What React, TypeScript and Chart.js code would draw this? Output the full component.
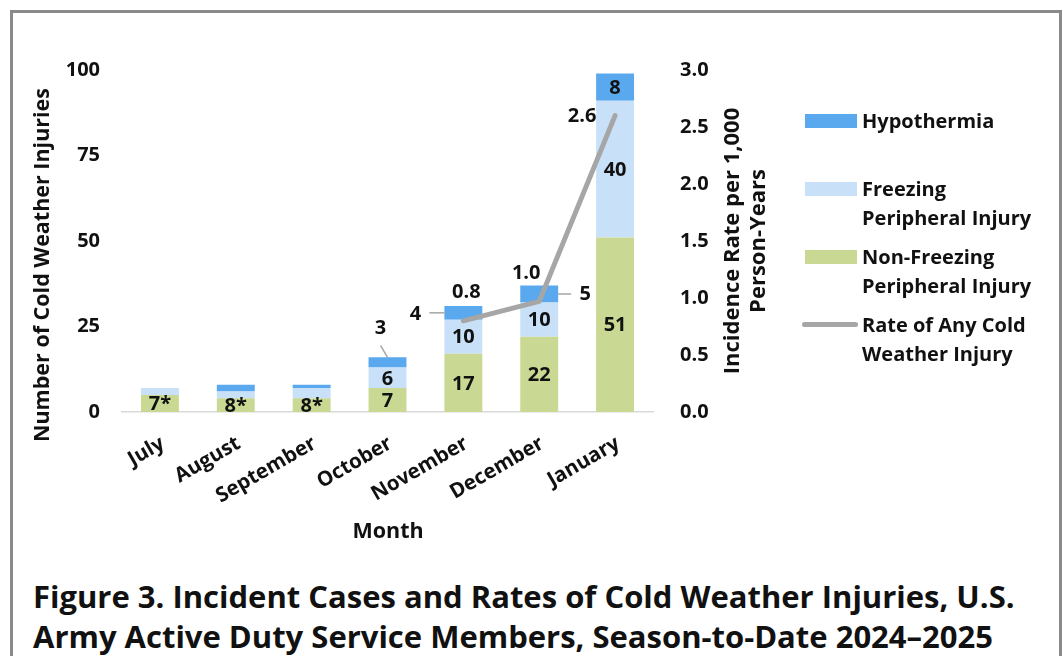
import React, { useEffect, useRef } from "react";
import { Chart, registerables } from "chart.js";
Chart.register(...registerables);

const months = ["July", "August", "September", "October", "November", "December", "January"];
const nonFreezing = [5, 4, 4, 7, 17, 22, 51];
const freezing = [2, 2, 3, 6, 10, 10, 40];
const hypothermia = [0, 2, 1, 3, 4, 5, 8];
const rate: (number | null)[] = [null, null, null, null, 0.8, 0.97, 2.6];
const suppressed = [true, true, true, false, false, false, false];
const leftTicks = [0, 25, 50, 75, 100];
const rightTicks = [0, 0.5, 1.0, 1.5, 2.0, 2.5, 3.0];

const FONT = "'Open Sans', Lato, sans-serif";
const TXT = "#111111";
const C_HYPO = "#5AA9EF";
const C_FREEZE = "#C9E1F8";
const C_NONF = "#C9D994";
const C_RATE = "#A6A6A6";
const C_LEADER = "#A6A6A6";

// callout placements for small hypothermia segments (index -> placement)
const hypoCallouts: Record<number, { anchor: "top" | "left" | "right"; dx: number; dy: number }> = {
  3: { anchor: "top", dx: -7, dy: -30 },
  4: { anchor: "left", dx: -29, dy: 0 },
  5: { anchor: "right", dx: 27, dy: -1 },
};
const rateLabelOffsets: Record<number, { dx: number; dy: number }> = {
  4: { dx: 3, dy: -30 },
  5: { dx: -13, dy: -29 },
  6: { dx: -33, dy: 0 },
};

const labelPlugin = {
  id: "customLabels",
  afterDatasetsDraw(chart: any) {
    const ctx = chart.ctx as CanvasRenderingContext2D;
    ctx.save();
    ctx.font = `bold 20px ${FONT}`;
    ctx.fillStyle = TXT;
    ctx.textAlign = "center";
    ctx.textBaseline = "middle";
    const series = [nonFreezing, freezing, hypothermia];
    for (let d = 0; d < 3; d++) {
      const meta = chart.getDatasetMeta(d);
      meta.data.forEach((bar: any, j: number) => {
        const p = bar.getProps(["x", "y", "base", "width"], true);
        const cy = (p.y + p.base) / 2;
        const v = series[d][j];
        if (suppressed[j]) {
          if (d === 0) {
            const total = nonFreezing[j] + freezing[j] + hypothermia[j];
            ctx.fillText(`${total}*`, p.x, cy + 1);
          }
          return;
        }
        if (!v) return;
        if (d === 2 && hypoCallouts[j]) {
          const c = hypoCallouts[j];
          let ax = p.x, ay = cy;
          if (c.anchor === "top") { ay = p.y; }
          if (c.anchor === "left") { ax = p.x - p.width / 2; }
          if (c.anchor === "right") { ax = p.x + p.width / 2; }
          const lx = ax + c.dx, ly = ay + c.dy;
          ctx.strokeStyle = C_LEADER;
          ctx.lineWidth = 1.5;
          ctx.beginPath();
          if (c.anchor === "top") { ctx.moveTo(lx, ly + 18); ctx.lineTo(ax, ay); }
          else if (c.anchor === "left") { ctx.moveTo(lx + 14, ay); ctx.lineTo(ax, ay); }
          else { ctx.moveTo(ax, ay); ctx.lineTo(lx - 14, ay); }
          ctx.stroke();
          ctx.fillText(String(v), lx, ly + 1);
          return;
        }
        ctx.fillText(String(v), p.x, cy + 1);
      });
    }
    const lmeta = chart.getDatasetMeta(3);
    lmeta.data.forEach((pt: any, j: number) => {
      const v = rate[j];
      if (v == null) return;
      const o = rateLabelOffsets[j] || { dx: 0, dy: -25 };
      ctx.fillText(v.toFixed(1), pt.x + o.dx, pt.y + o.dy + 1);
    });
    ctx.restore();
  },
  afterDraw(chart: any) {
    const ctx = chart.ctx as CanvasRenderingContext2D;
    ctx.save();
    ctx.fillStyle = TXT;
    // month tick labels, rotated, anchored at the category positions of the x scale
    const xs = chart.scales.x;
    ctx.font = `bold 20.5px ${FONT}`;
    ctx.textAlign = "right";
    ctx.textBaseline = "middle";
    months.forEach((m, i) => {
      const x = xs.getPixelForValue(i) + 3;
      ctx.save();
      ctx.translate(x, xs.top + 30);
      ctx.rotate(-Math.PI / 6);
      ctx.fillText(m, 0, 0);
      ctx.restore();
    });
    ctx.textAlign = "center";
    ctx.font = `bold 21.5px ${FONT}`;
    // x title
    ctx.fillText("Month", 388, 532);
    // left title
    ctx.save();
    ctx.translate(43, 265);
    ctx.rotate(-Math.PI / 2);
    ctx.font = `bold 21.5px ${FONT}`;
    ctx.fillText("Number of Cold Weather Injuries", 0, 0);
    ctx.restore();
    // right title (two lines, bottom-to-top)
    ctx.save();
    ctx.translate(745, 241);
    ctx.rotate(-Math.PI / 2);
    ctx.font = `bold 22px ${FONT}`;
    ctx.fillText("Incidence Rate per 1,000", 0, -12);
    ctx.fillText("Person-Years", 0, 14);
    ctx.restore();
    ctx.restore();
  },
};

function Legend() {
  const item = (top: number, swatch: React.ReactNode, lines: string[]) => (
    <div style={{ position: "absolute", left: 802, top, display: "flex" }}>
      <div style={{ width: 56, position: "relative" }}>{swatch}</div>
      <div style={{ marginLeft: 4, font: `bold 20px ${FONT}`, lineHeight: "29px", color: TXT, whiteSpace: "nowrap" }}>
        {lines.map((l) => (<div key={l}>{l}</div>))}
      </div>
    </div>
  );
  const box = (c: string) => (
    <div style={{ position: "absolute", left: 3, top: 8, width: 52, height: 14, background: c }} />
  );
  return (
    <>
      {item(106, box(C_HYPO), ["Hypothermia"])}
      {item(174, box(C_FREEZE), ["Freezing", "Peripheral Injury"])}
      {item(242, box(C_NONF), ["Non-Freezing", "Peripheral Injury"])}
      {item(310, <div style={{ position: "absolute", left: 0, top: 12, width: 56, height: 5, borderRadius: 3, background: C_RATE }} />, ["Rate of Any Cold", "Weather Injury"])}
    </>
  );
}

export default function App() {
  const ref = useRef<HTMLCanvasElement | null>(null);
  useEffect(() => {
    if (!ref.current) return;
    const chart = new Chart(ref.current, {
      type: "bar",
      data: {
        labels: months,
        datasets: [
          { type: "bar", label: "Non-Freezing Peripheral Injury", data: nonFreezing, backgroundColor: C_NONF, yAxisID: "y", stack: "s", order: 1, categoryPercentage: 1, barPercentage: 0.5 } as any,
          { type: "bar", label: "Freezing Peripheral Injury", data: freezing, backgroundColor: C_FREEZE, yAxisID: "y", stack: "s", order: 1, categoryPercentage: 1, barPercentage: 0.5 } as any,
          { type: "bar", label: "Hypothermia", data: hypothermia, backgroundColor: C_HYPO, yAxisID: "y", stack: "s", order: 1, categoryPercentage: 1, barPercentage: 0.5 } as any,
          { type: "line", label: "Rate of Any Cold Weather Injury", data: rate, borderColor: C_RATE, borderWidth: 5, borderCapStyle: "round", borderJoinStyle: "round", pointRadius: 0, tension: 0, yAxisID: "y1", order: 0, spanGaps: false } as any,
        ],
      },
      options: {
        responsive: false,
        animation: false,
        events: [],
        layout: { padding: { top: 70, left: 0, right: 0, bottom: 0 } },
        plugins: { legend: { display: false }, tooltip: { enabled: false }, title: { display: false } },
        scales: {
          x: {
            stacked: true,
            grid: { display: false, drawTicks: false },
            border: { display: true, color: "#D9D9D9", width: 1.5 },
            ticks: { display: false, autoSkip: false },
            afterFit: (s: any) => { s.height = 148; },
          },
          y: {
            stacked: true,
            position: "left",
            min: 0,
            max: 100,
            afterBuildTicks: (s: any) => { s.ticks = leftTicks.map((v) => ({ value: v })); },
            grid: { display: false, drawTicks: false },
            border: { display: false },
            ticks: { color: TXT, font: { family: FONT, size: 20, weight: "bold" }, padding: 22 },
            afterFit: (s: any) => { s.width = 122; },
          },
          y1: {
            position: "right",
            min: 0,
            max: 3,
            afterBuildTicks: (s: any) => { s.ticks = rightTicks.map((v) => ({ value: v })); },
            grid: { display: false, drawTicks: false },
            border: { display: false },
            ticks: { color: TXT, font: { family: FONT, size: 20, weight: "bold" }, padding: 27, callback: (v: any) => Number(v).toFixed(1) },
            afterFit: (s: any) => { s.width = 410; },
          },
        },
      },
      plugins: [labelPlugin],
    });
    return () => chart.destroy();
  }, []);

  return (
    <div style={{ position: "absolute", left: 0, top: 0, width: 1063, height: 656, overflow: "hidden", background: "#fff" }}>
      <div style={{ position: "absolute", left: 10, top: 10, width: 1046, height: 720, border: "3px solid #8A8A8A" }} />
      <canvas ref={ref} width={1063} height={560} style={{ position: "absolute", left: 0, top: 0, width: 1063, height: 560 }} />
      <Legend />
      <div style={{ position: "absolute", left: 33, top: 576, font: `bold 31px ${FONT}`, lineHeight: "40px", color: TXT, whiteSpace: "nowrap" }}>
        <div>Figure 3. Incident Cases and Rates of Cold Weather Injuries, U.S.</div>
        <div>Army Active Duty Service Members, Season-to-Date 2024–2025</div>
      </div>
    </div>
  );
}
